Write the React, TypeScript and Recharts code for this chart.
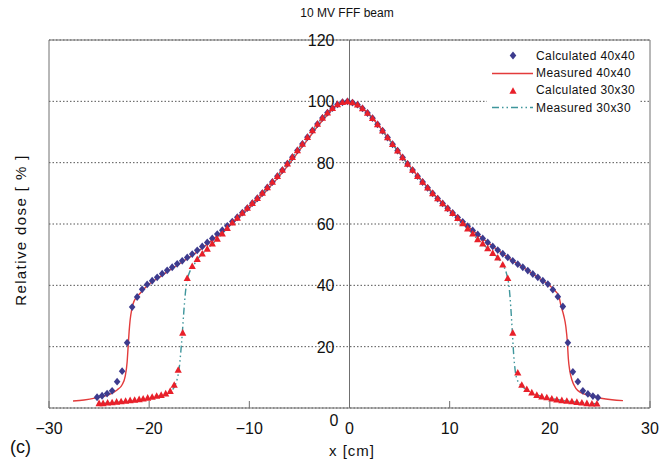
import {
  CartesianGrid,
  ComposedChart,
  Legend,
  Line,
  ReferenceDot,
  ReferenceLine,
  Scatter,
  XAxis,
  YAxis,
} from "recharts";

const xTicks = [-30, -20, -10, 0, 10, 20, 30];
const yTicks = [0, 20, 40, 60, 80, 100, 120];

// Calculated 40x40 (diamonds)
const calc40X = [
  -25.2, -24.7, -24.2, -23.7, -23.2, -22.7, -22.2, -21.7, -21.2, -20.7, -20.2, -19.7, -19.2, -18.7,
  -18.2, -17.7, -17.2, -16.7, -16.2, -15.7, -15.2, -14.7, -14.2, -13.7, -13.2, -12.7, -12.2, -11.7,
  -11.2, -10.7, -10.2, -9.7, -9.2, -8.7, -8.2, -7.7, -7.2, -6.7, -6.2, -5.7, -5.2, -4.7, -4.2, -3.7,
  -3.2, -2.7, -2.2, -1.7, -1.2, -0.7, -0.2, 0.3, 0.8, 1.3, 1.8, 2.3, 2.8, 3.3, 3.8, 4.3, 4.8, 5.3,
  5.8, 6.3, 6.8, 7.3, 7.8, 8.3, 8.8, 9.3, 9.8, 10.3, 10.8, 11.3, 11.8, 12.3, 12.8, 13.3, 13.8, 14.3,
  14.8, 15.3, 15.8, 16.3, 16.8, 17.3, 17.8, 18.3, 18.8, 19.3, 19.8, 20.3, 20.8, 21.3, 21.8, 22.3,
  22.8, 23.3, 23.8, 24.3, 24.8,
];
const calc40Y = [
  3.5, 4.0, 4.7, 5.6, 8.6, 12.0, 21.3, 32.9, 36.2, 38.7, 40.3, 41.5, 42.6, 43.8, 44.9, 45.9, 47.0,
  48.0, 49.1, 50.2, 51.4, 52.7, 54.0, 55.3, 56.7, 58.0, 59.4, 60.8, 62.2, 63.7, 65.2, 66.8, 68.4,
  70.1, 71.9, 73.7, 75.6, 77.6, 79.7, 81.8, 84.0, 86.1, 88.3, 90.5, 92.6, 94.6, 96.3, 97.8, 99.0,
  99.7, 100.0, 99.6, 98.9, 97.7, 96.2, 94.5, 92.5, 90.4, 88.2, 86.0, 83.9, 81.7, 79.6, 77.6, 75.6,
  73.7, 71.8, 70.0, 68.3, 66.7, 65.1, 63.6, 62.1, 60.7, 59.3, 57.9, 56.6, 55.3, 54.0, 52.7, 51.5,
  50.3, 49.1, 48.0, 46.9, 45.9, 44.8, 43.7, 42.6, 41.5, 40.4, 38.6, 36.3, 33.1, 21.3, 11.8, 8.6, 5.6,
  4.6, 3.9, 3.4,
];

// Measured 40x40 (solid red)
const meas40X = [
  -27.6, -26.5, -25.2, -24.0, -23.2, -22.7, -22.4, -22.2, -22.1, -22.0, -21.9, -21.75, -21.6, -21.3,
  -20.9, -20.5, -19.9, -19.0, -18.0, -17.0, -16.0, -15.0, -14.0, -13.0, -12.0, -11.0, -10.0, -9.0,
  -8.0, -7.0, -6.0, -5.0, -4.0, -3.0, -2.0, -1.2, -0.2, 0.8, 1.8, 2.8, 3.8, 4.8, 5.8, 6.8, 7.8, 8.8,
  9.8, 10.8, 11.8, 12.8, 13.8, 14.8, 15.8, 16.8, 17.8, 18.8, 19.8, 20.5, 20.9, 21.1, 21.4, 21.6,
  21.75, 21.85, 22.0, 22.2, 22.6, 23.1, 23.8, 25.1, 26.2, 27.3,
];
const meas40Y = [
  2.3, 2.6, 3.4, 4.4, 5.9, 7.6, 10.2, 15.0, 20.0, 25.0, 28.7, 32.0, 34.0, 36.0, 37.4, 38.9, 40.7,
  42.6, 44.9, 47.0, 49.1, 51.4, 54.0, 56.7, 59.4, 62.2, 65.2, 68.4, 71.9, 75.6, 79.7, 84.0, 88.3,
  92.6, 96.3, 99.0, 100.0, 98.9, 96.2, 92.5, 88.2, 83.9, 79.6, 75.6, 71.8, 68.3, 65.1, 62.1, 59.3,
  56.6, 54.0, 51.5, 49.1, 46.9, 44.8, 42.6, 40.4, 38.3, 36.5, 33.5, 30.0, 26.5, 21.5, 16.0, 12.0,
  9.2, 6.4, 5.0, 4.2, 3.2, 2.7, 2.4,
];

// Calculated 30x30 (triangles)
const calc30X = [
  -25.0, -24.6, -24.15, -23.7, -23.25, -22.8, -22.35, -21.9, -21.45, -21.0, -20.6, -20.15, -19.7,
  -19.25, -18.8, -18.35, -17.9, -17.5, -17.1, -16.65, -16.2, -15.7, -15.2, -14.7, -14.2, -13.7,
  -13.2, -12.7, -12.2, -11.7, -11.2, -10.7, -10.2, -9.7, -9.2, -8.7, -8.2, -7.7, -7.2, -6.7, -6.2,
  -5.7, -5.2, -4.7, -4.2, -3.7, -3.2, -2.7, -2.2, -1.7, -1.2, -0.7, -0.2, 0.3, 0.8, 1.3, 1.8, 2.3,
  2.8, 3.3, 3.8, 4.3, 4.8, 5.3, 5.8, 6.3, 6.8, 7.3, 7.8, 8.3, 8.8, 9.3, 9.8, 10.3, 10.8, 11.3, 11.8,
  12.3, 12.8, 13.3, 13.8, 14.3, 14.8, 15.3, 15.8, 16.3, 16.8, 17.2, 17.7, 18.2, 18.7, 19.2, 19.7,
  20.2, 20.7, 21.2, 21.7, 22.2, 22.7, 23.2, 23.7, 24.2, 24.7,
];
const calc30Y = [
  1.5, 1.5, 1.7, 1.8, 2.0, 2.1, 2.3, 2.5, 2.6, 2.8, 3.0, 3.3, 3.6, 3.9, 4.2, 4.7, 5.5, 7.5, 12.4,
  24.5, 42.3, 46.2, 48.5, 50.3, 51.9, 53.6, 55.1, 56.8, 58.6, 60.4, 62.0, 63.6, 65.2, 66.8, 68.4,
  70.1, 71.9, 73.7, 75.6, 77.6, 79.7, 81.8, 84.0, 86.1, 88.3, 90.5, 92.6, 94.6, 96.3, 97.8, 99.0,
  99.7, 100.0, 99.6, 98.9, 97.7, 96.2, 94.5, 92.5, 90.4, 88.2, 86.0, 83.9, 81.7, 79.6, 77.6, 75.6,
  73.7, 71.8, 70.0, 68.3, 66.7, 65.1, 63.5, 61.9, 60.2, 58.5, 56.8, 55.0, 53.6, 52.0, 50.5, 49.0,
  46.7, 42.3, 24.5, 11.5, 7.5, 6.1, 5.0, 4.2, 3.7, 3.4, 3.0, 2.7, 2.5, 2.3, 2.1, 1.9, 1.7, 1.5, 1.4,
  1.4,
];

// Measured 30x30 (dash-dot teal)
const meas30X = [
  -25.0, -23.0, -21.0, -19.5, -18.5, -17.9, -17.5, -17.2, -17.0, -16.85, -16.7, -16.55, -16.4,
  -16.25, -16.0, -15.6, -15.2, -14.2, -13.2, -12.2, -11.2, -10.2, -9.2, -8.2, -7.2, -6.2, -5.2,
  -4.2, -3.2, -2.2, -1.2, -0.2, 0.8, 1.8, 2.8, 3.8, 4.8, 5.8, 6.8, 7.8, 8.8, 9.8, 10.8, 11.8, 12.8,
  13.8, 14.8, 15.3, 15.7, 15.95, 16.1, 16.25, 16.4, 16.55, 16.8, 17.2, 18.2, 19.7, 21.2, 23.2, 25.0,
];
const meas30Y = [
  1.4, 1.9, 2.6, 3.5, 4.4, 5.4, 6.8, 9.5, 13.0, 18.0, 24.0, 31.0, 37.0, 41.0, 44.0, 46.3, 48.4,
  51.9, 55.1, 58.6, 62.0, 65.2, 68.4, 71.9, 75.6, 79.7, 84.0, 88.3, 92.6, 96.3, 99.0, 100.0, 98.9,
  96.2, 92.5, 88.2, 83.9, 79.6, 75.6, 71.8, 68.3, 65.1, 61.9, 58.5, 55.0, 52.0, 49.0, 46.7, 43.5,
  39.0, 33.0, 25.0, 17.0, 12.0, 8.8, 7.2, 5.0, 3.4, 2.5, 1.7, 1.3,
];

const zip = (xs: number[], ys: number[]) => xs.map((x, i) => ({ x, y: ys[i] }));

const FONT = '"Liberation Sans", Arial, Helvetica, sans-serif';
const NAVY = "#3d3b8e";
const RED = "#e8202a";
const LINE_RED = "#e33b3b";
const TEAL = "#3f969c";
const DASH_DOT = "7 3 1.5 3 1.5 3";
const FRAME = "#707070";

const Diamond = (props: any) => {
  const { cx, cy } = props;
  if (cx == null || cy == null) return null;
  return (
    <path d={`M${cx},${cy - 3.9}L${cx + 3.3},${cy}L${cx},${cy + 3.9}L${cx - 3.3},${cy}Z`} fill={NAVY} />
  );
};

const Triangle = (props: any) => {
  const { cx, cy } = props;
  if (cx == null || cy == null) return null;
  return (
    <path d={`M${cx},${cy - 3.8}L${cx + 3.6},${cy + 2.8}L${cx - 3.6},${cy + 2.8}Z`} fill={RED} />
  );
};

const minus = (v: number) => String(v).replace("-", "\u2212");

const XTick = (props: any) => {
  const { x, y, payload } = props;
  return (
    <g>
      <line x1={x} x2={x} y1={y} y2={y - 7} stroke={FRAME} />
      <text x={x} y={y + 26} textAnchor="middle" fontSize={16} fill="#111" fontFamily={FONT}>
        {minus(payload.value)}
      </text>
    </g>
  );
};

const yTickLabel = (v: number) => (p: any) => {
  const vb = p.viewBox;
  if (!vb) return null;
  const cx = vb.x + (vb.width || 0) / 2;
  const cy = vb.y + (vb.height || 0) / 2;
  return (
    <text
      x={v === 0 ? cx - 11 : cx - 15}
      y={v === 0 ? cy + 18 : cy + 6}
      textAnchor="end"
      fontSize={16}
      fill="#111"
      fontFamily={FONT}
    >
      {v}
    </text>
  );
};

const legendItems = [
  { name: "Calculated 40x40", kind: "diamond" },
  { name: "Measured 40x40", kind: "line" },
  { name: "Calculated 30x30", kind: "triangle" },
  { name: "Measured 30x30", kind: "dashdot" },
];

const renderLegend = () => (
  <div style={{ background: "#fff", fontFamily: FONT, fontSize: 12, color: "#111" }}>
    {legendItems.map((item) => (
      <div key={item.name} style={{ display: "flex", alignItems: "center", height: 17.4 }}>
        <svg width={49} height={17} style={{ display: "block" }}>
          {item.kind === "diamond" && <Diamond cx={26} cy={8.5} />}
          {item.kind === "triangle" && <Triangle cx={26} cy={9} />}
          {item.kind === "line" && <line x1={5} x2={46} y1={8.5} y2={8.5} stroke={LINE_RED} strokeWidth={1.4} />}
          {item.kind === "dashdot" && (
            <line x1={5} x2={46} y1={8.5} y2={8.5} stroke={TEAL} strokeWidth={1.4} strokeDasharray={DASH_DOT} />
          )}
        </svg>
        <span style={{ whiteSpace: "nowrap", letterSpacing: 0.4 }}>{item.name}</span>
      </div>
    ))}
  </div>
);

export default function App() {
  return (
    <div style={{ position: "absolute", left: 0, top: 0, width: 667, height: 463, background: "#fff" }}>
      <div
        style={{
          position: "absolute",
          left: 347,
          top: 6,
          transform: "translateX(-50%)",
          fontFamily: FONT,
          fontSize: 12,
          color: "#111",
          whiteSpace: "nowrap",
        }}
      >
        10 MV FFF beam
      </div>
      <div
        style={{
          position: "absolute",
          left: 20,
          top: 230,
          transform: "translate(-50%, -50%) rotate(-90deg)",
          fontFamily: FONT,
          fontSize: 15,
          letterSpacing: 1.4,
          color: "#111",
          whiteSpace: "nowrap",
        }}
      >
        Relative dose [ % ]
      </div>
      <div style={{ position: "absolute", left: 10, top: 437, fontFamily: FONT, fontSize: 18, color: "#111" }}>
        (c)
      </div>
      <div
        style={{
          position: "absolute",
          left: 352,
          top: 442,
          transform: "translateX(-50%)",
          fontFamily: FONT,
          fontSize: 15,
          letterSpacing: 1,
          color: "#111",
          whiteSpace: "nowrap",
        }}
      >
        x [cm]
      </div>
      <ComposedChart width={667} height={463} margin={{ top: 40, right: 17, bottom: 25, left: 49 }}>
        <CartesianGrid vertical={false} stroke="#555" strokeDasharray="1.5 2" />
        <XAxis
          dataKey="x"
          type="number"
          domain={[-30, 30]}
          ticks={xTicks}
          allowDataOverflow
          height={30}
          tickSize={0}
          tickMargin={0}
          tickLine={false}
          axisLine={{ stroke: FRAME }}
          tick={<XTick />}
        />
        <YAxis type="number" domain={[0, 120]} ticks={yTicks} hide />
        <ReferenceLine y={120} stroke={FRAME} />
        <ReferenceLine x={-30} stroke={FRAME} />
        <ReferenceLine x={30} stroke={FRAME} />
        <ReferenceLine x={0} stroke={FRAME} />
        {yTicks.map((v) => (
          <ReferenceDot
            key={v}
            x={0}
            y={v}
            r={0}
            fill="none"
            stroke="none"
            label={{ content: yTickLabel(v) }}
          />
        ))}
        <Line
          data={zip(meas40X, meas40Y)}
          dataKey="y"
          type="monotone"
          stroke={LINE_RED}
          strokeWidth={1.4}
          dot={false}
          isAnimationActive={false}
        />
        <Scatter data={zip(calc40X, calc40Y)} dataKey="y" shape={<Diamond />} isAnimationActive={false} />
        <Line
          data={zip(meas30X, meas30Y)}
          dataKey="y"
          type="monotone"
          stroke={TEAL}
          strokeWidth={1.4}
          strokeDasharray={DASH_DOT}
          dot={false}
          isAnimationActive={false}
        />
        <Scatter data={zip(calc30X, calc30Y)} dataKey="y" shape={<Triangle />} isAnimationActive={false} />
        <Legend
          layout="vertical"
          align="center"
          verticalAlign="middle"
          wrapperStyle={{ top: 47, left: 487, width: 152 }}
          content={renderLegend}
        />
      </ComposedChart>
    </div>
  );
}
